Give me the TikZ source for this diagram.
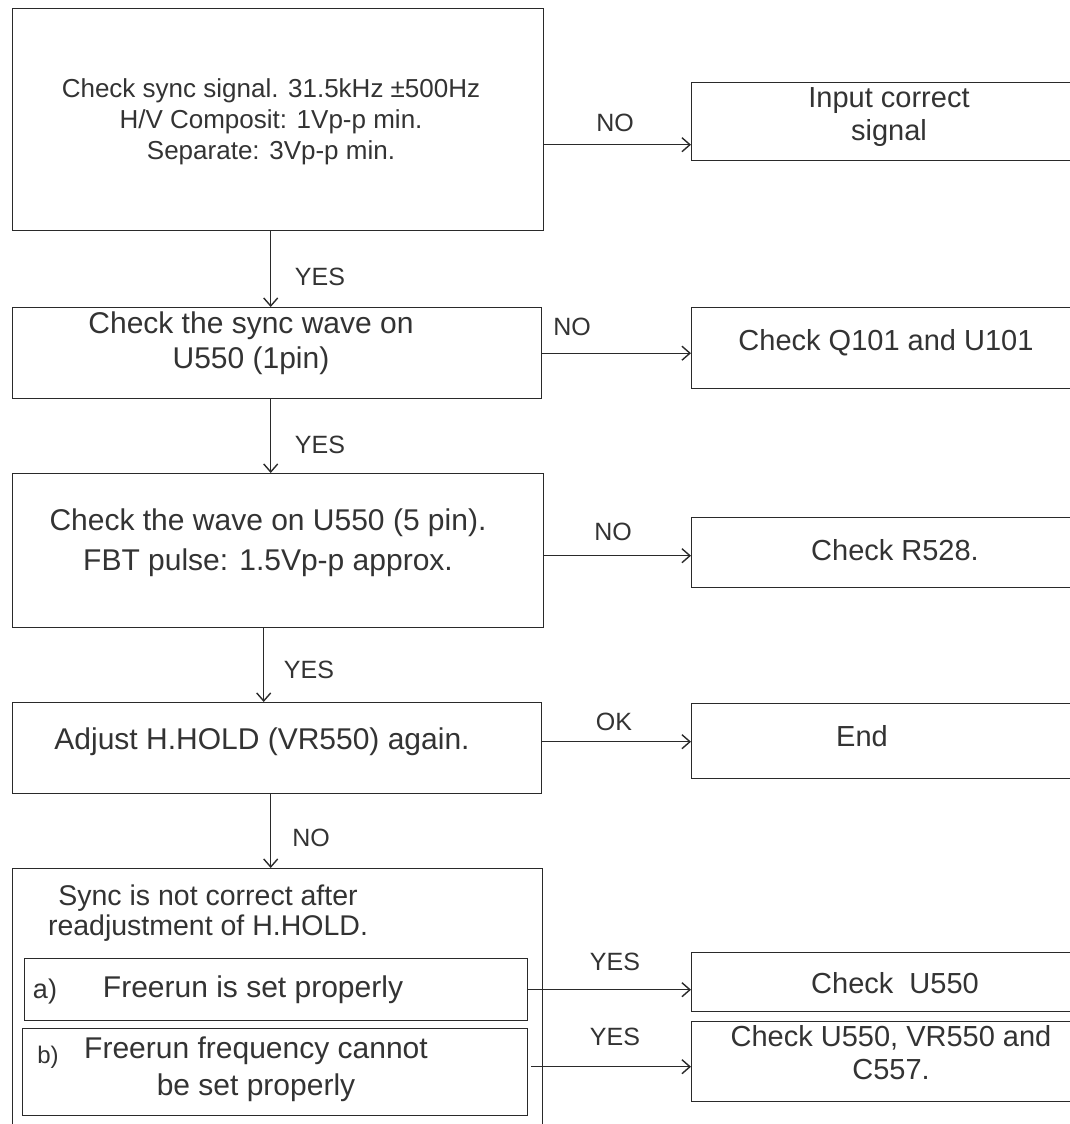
\documentclass[tikz,border=0pt]{standalone}
\usepackage{fontspec}
\setmainfont{Liberation Sans}
\usetikzlibrary{arrows.meta}
\definecolor{lc}{HTML}{2A2A2A}
\definecolor{tc}{HTML}{333333}
\begin{document}
\begin{tikzpicture}[x=1pt,y=-1pt,
  box/.style={draw=lc, line width=1.4pt, inner sep=0pt, anchor=north west},
  txt/.style={inner sep=0pt, align=center, text=tc},
  lbl/.style={inner sep=0pt, text=tc, font=\fontsize{25}{30}\selectfont},
  arr/.style={draw=lc, line width=1.4pt, -{Straight Barb[length=8pt,width=14pt,line width=1.4pt]}}]
\fill[white] (0,0) rectangle (1069,1124);
\useasboundingbox (0,0) rectangle (1069,1124);

% left column boxes
\node[box, minimum width=531pt, minimum height=222pt] (b1) at (12,8) {};
\node[box, minimum width=529pt, minimum height=91pt] (b2) at (12,307) {};
\node[box, minimum width=531pt, minimum height=154pt] (b3) at (12,473) {};
\node[box, minimum width=529pt, minimum height=91pt] (b4) at (12,702) {};
\node[box, minimum width=530pt, minimum height=272pt] (b5) at (12,868) {};
\node[box, minimum width=503pt, minimum height=62pt] (sa) at (24,958) {};
\node[box, minimum width=505pt, minimum height=87pt] (sb) at (22,1028) {};

% right column boxes
\node[box, minimum width=399pt, minimum height=78pt] (r1) at (691,82) {};
\node[box, minimum width=399pt, minimum height=81pt] (r2) at (691,307) {};
\node[box, minimum width=399pt, minimum height=70pt] (r3) at (691,517) {};
\node[box, minimum width=399pt, minimum height=75pt] (r4) at (691,703) {};
\node[box, minimum width=399pt, minimum height=59pt] (r5) at (691,952) {};
\node[box, minimum width=399pt, minimum height=80pt] (r6) at (691,1021) {};

% texts
\node[txt, font=\fontsize{26}{31}\selectfont] (t1) at (271,122) {Check sync signal. 31.5kHz ±500Hz\\H/V Composit: 1Vp-p min.\\Separate: 3Vp-p min.};
\node[txt, font=\fontsize{30}{35}\selectfont] (t2) at (251,343) {Check the sync wave on\\U550 (1pin)};
\node[txt, font=\fontsize{30}{40}\selectfont] (t3) at (268,543) {Check the wave on U550 (5 pin).\\FBT pulse: 1.5Vp-p approx.};
\node[txt, font=\fontsize{30}{35}\selectfont] (t4) at (262,742) {Adjust H.HOLD (VR550) again.};
\node[txt, font=\fontsize{28.5}{30}\selectfont] (t5) at (208,913) {Sync is not correct after\\readjustment of H.HOLD.};
\node[txt, font=\fontsize{27}{30}\selectfont] (ta1) at (45,991) {a)};
\node[txt, font=\fontsize{30}{35}\selectfont] (ta2) at (253,990) {Freerun is set properly};
\node[txt, font=\fontsize{24}{30}\selectfont] (tb1) at (48,1057) {b)};
\node[txt, font=\fontsize{30}{37}\selectfont] (tb2) at (256,1069) {Freerun frequency cannot\\be set properly};

\node[txt, font=\fontsize{29}{33}\selectfont] (tr1) at (889,117) {Input correct\\signal};
\node[txt, font=\fontsize{29}{33}\selectfont] (tr2) at (886,343) {Check Q101 and U101};
\node[txt, font=\fontsize{29}{33}\selectfont] (tr3) at (895,550) {Check R528.};
\node[txt, font=\fontsize{29}{33}\selectfont] (tr4) at (862,736) {End};
\node[txt, font=\fontsize{29}{33}\selectfont] (tr5) at (895,983) {Check\ \ U550};
\node[txt, font=\fontsize{29}{33}\selectfont] (tr6) at (891,1053) {Check U550, VR550 and\\C557.};

% connectors
\draw[arr] ([xshift=-7.5pt]b1.south) -- ([xshift=-7.5pt]b1.south |- b2.north);
\draw[arr] ([xshift=-6.5pt]b2.south) -- ([xshift=-6.5pt]b2.south |- b3.north);
\draw[arr] ([xshift=-14.5pt]b3.south) -- ([xshift=-14.5pt]b3.south |- b4.north);
\draw[arr] ([xshift=-6.5pt]b4.south) -- ([xshift=-6.5pt]b4.south |- b5.north);

\draw[arr] ([yshift=-25pt]b1.east) -- ([yshift=-25pt]b1.east -| r1.west);
\draw[arr] (b2.east) -- (b2.east -| r2.west);
\draw[arr] ([yshift=-5pt]b3.east) -- ([yshift=-5pt]b3.east -| r3.west);
\draw[arr] ([yshift=6.5pt]b4.east) -- ([yshift=6.5pt]b4.east -| r4.west);
\draw[arr] (sa.east) -- (sa.east -| r5.west);
\draw[arr] ([xshift=3pt,yshift=5.5pt]sb.east) -- ([yshift=5.5pt]sb.east -| r6.west);

% connector labels
\node[lbl] (l1) at (320,277) {YES};
\node[lbl] (l2) at (320,445) {YES};
\node[lbl] (l3) at (309,670) {YES};
\node[lbl] (l4) at (311,838) {NO};
\node[lbl] (l5) at (615,123) {NO};
\node[lbl] (l6) at (572,327) {NO};
\node[lbl] (l7) at (613,532) {NO};
\node[lbl] (l8) at (614,722) {OK};
\node[lbl] (l9) at (615,962) {YES};
\node[lbl] (l10) at (615,1037) {YES};
\end{tikzpicture}
\end{document}
